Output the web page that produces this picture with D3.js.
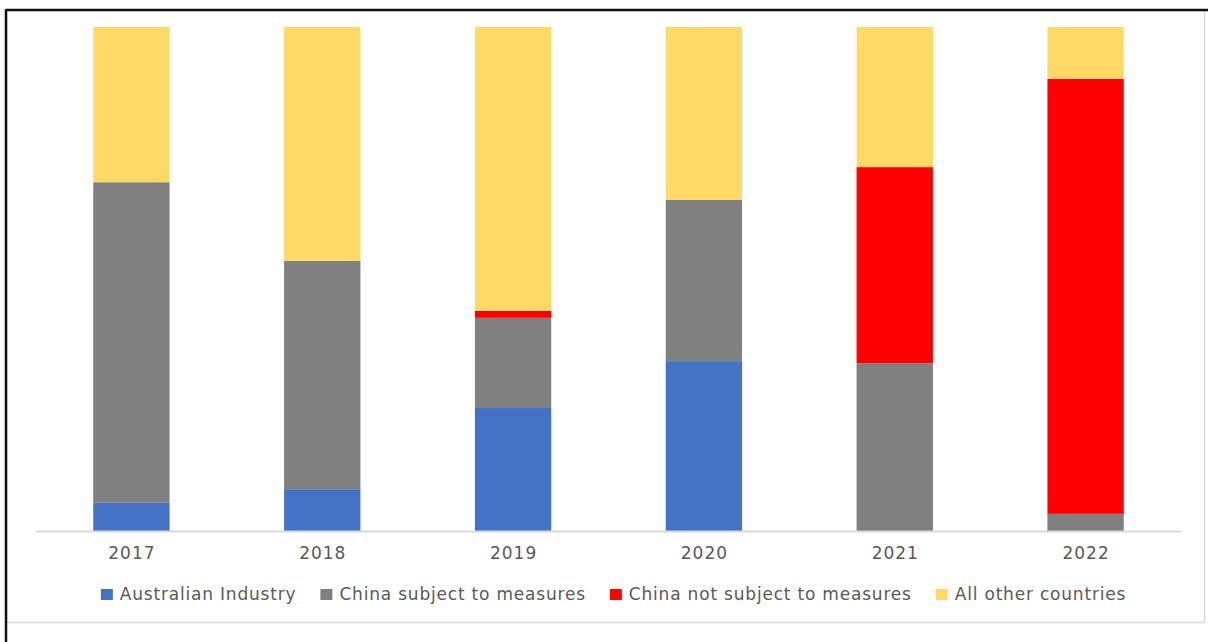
<!DOCTYPE html>
<html>
<head>
<meta charset="utf-8">
<script src="https://cdn.jsdelivr.net/npm/d3@7"></script>
<style>
html,body{margin:0;padding:0;background:#fff;}
svg{display:block;}
text{font-family:"DejaVu Sans",sans-serif;fill:#595959;}
</style>
</head>
<body>
<svg id="chart" width="1210" height="642"></svg>
<script>
// Data (percent share of market)
const years = ["2017","2018","2019","2020","2021","2022"];
const seriesNames = ["Australian Industry","China subject to measures","China not subject to measures","All other countries"];
const australianIndustry = [5.6, 8.3, 24.4, 33.7, 0, 0];
const chinaSubject = [63.6, 45.3, 17.9, 32.0, 33.3, 3.4];
const chinaNotSubject = [0, 0, 1.4, 0, 38.9, 86.3];
const allOther = [30.8, 46.4, 56.3, 34.3, 27.8, 10.3];
const colors = ["#4472C4","#808080","#FF0000","#FFD966"];

const svg = d3.select("#chart");
const plot = {left: 36, right: 1181, top: 27, bottom: 531};

// Frame
svg.append("rect").attr("x",6.5).attr("y",10.5).attr("width",1198).attr("height",612)
  .attr("fill","#fff").attr("stroke","#d9d9d9").attr("stroke-width",1.5);
svg.append("line").attr("x1",6).attr("x2",1208).attr("y1",10).attr("y2",10).attr("stroke","#111").attr("stroke-width",2.5);
svg.append("line").attr("x1",6).attr("x2",6).attr("y1",9).attr("y2",642).attr("stroke","#111").attr("stroke-width",2.5);

const rows = years.map((y,i)=>({
  year:y,
  "Australian Industry":australianIndustry[i],
  "China subject to measures":chinaSubject[i],
  "China not subject to measures":chinaNotSubject[i],
  "All other countries":allOther[i]
}));
const stack = d3.stack().keys(seriesNames).offset(d3.stackOffsetExpand)(rows);

const x = d3.scaleBand().domain(years).range([plot.left, plot.right]).paddingInner(0.6).paddingOuter(0.3);
const y = d3.scaleLinear().domain([0,1]).range([plot.bottom, plot.top]);

const g = svg.append("g");
g.selectAll("g.series").data(stack).join("g")
  .attr("fill",(d,i)=>colors[i])
  .selectAll("rect").data(d=>d).join("rect")
  .attr("x",d=>x(d.data.year))
  .attr("width",x.bandwidth())
  .attr("y",d=>y(d[1]))
  .attr("height",d=>Math.max(0,y(d[0])-y(d[1])));

// Axis
const xAxis = d3.axisBottom(x).tickSize(0).tickPadding(16);
const ax = svg.append("g").attr("transform",`translate(0,${plot.bottom})`).call(xAxis);
ax.select(".domain").attr("stroke","#d9d9d9").attr("stroke-width",2);
ax.selectAll("text").attr("font-size","17px").attr("fill","#595959")
  .style("font-family","DejaVu Sans").style("letter-spacing","1px").attr("dx","0.5px");

// Legend
const leg = svg.append("g").attr("transform","translate(0,600)");
const items = leg.selectAll("g").data(seriesNames).join("g");
items.append("rect").attr("y",-11).attr("width",12).attr("height",11).attr("fill",(d,i)=>colors[i]);
items.append("text").attr("x",19).attr("y",0).attr("font-size","17px")
  .style("letter-spacing","0.8px").text(d=>d);
let widths = [];
items.each(function(){ widths.push(19 + d3.select(this).select("text").node().getComputedTextLength()); });
const gap = 24;
const total = d3.sum(widths) + gap*(widths.length-1);
let cx = 613.5 - total/2;
items.attr("transform",(d,i)=>{ const t = `translate(${cx},0)`; cx += widths[i] + gap; return t; });
</script>
</body>
</html>
